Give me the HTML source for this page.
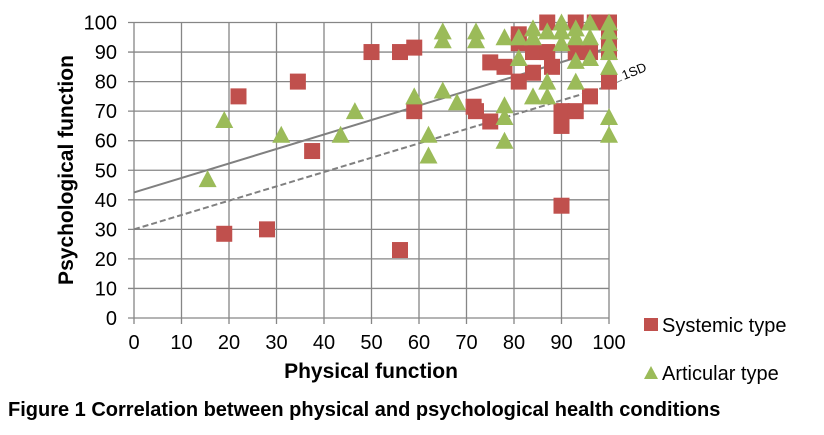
<!DOCTYPE html>
<html><head><meta charset="utf-8"><style>
body{margin:0;background:#fff;}
svg{display:block;font-family:"Liberation Sans",Arial,sans-serif;}
</style></head><body>
<svg id="chart" width="824" height="435" viewBox="0 0 824 435">
<g id="grid"></g>
<g id="lines"></g>
<g id="pts"></g>
<g id="labels"></g>
<text x="371" y="378" text-anchor="middle" font-size="21" font-weight="bold">Physical function</text>
<text transform="translate(73,170) rotate(-90)" text-anchor="middle" font-size="21" font-weight="bold">Psychological function</text>
<text transform="translate(624,80) rotate(-22)" font-size="13">1SD</text>
<g>
<rect x="644" y="318" width="14" height="13" fill="#C0504D"/>
<text x="662" y="332" font-size="20">Systemic type</text></g>
<g>
<polygon points="651,366 658,379 644,379" fill="#9BBB59"/>
<text x="662" y="380" font-size="20">Articular type</text></g>
<text x="8" y="416" font-size="20" font-weight="bold">Figure 1 Correlation between physical and psychological health conditions</text>
</svg>
<script>
const xTicks=[0,10,20,30,40,50,60,70,80,90,100];
const yTicks=[0,10,20,30,40,50,60,70,80,90,100];
const sysX=[19,22,28,34.5,37.5,50,56,56,59,59,71.5,72,75,75,78,81,81,81,84,84,87,87,88,90,90,90,93,93,93,96,96,97,100,100,100,100];
const sysY=[28.5,75,30,80,56.5,90,90,23,91.5,70,71.5,70,86.5,66.5,85,96,80,93,90,83,100,90,85,65,70,38,100,70,90,75,90,100,100,80,90,95];
const artX=[15.5,19,31,43.5,46.5,59,62,62,65,65,65,68,72,72,78,78,78,78,81,81,84,84,84,87,87,87,90,90,90,93,93,93,93,96,96,96,100,100,100,100,100,100,100];
const artY=[47,67,62,62,70,75,62,55,97,94,77,73,97,94,95,72,68,60,95,88,98,95,75,97,80,75,100,93,97,98,95,87,80,100,95,88,100,97,93,85,68,62,90];
const fitLine=[[0,42.5],[100,91.5]];
const sdLine=[[0,30],[100,78.5]];
const NS='http://www.w3.org/2000/svg';
const X=v=>134+v*4.75, Y=v=>318-v*2.955;
function mk(t,a,p){const e=document.createElementNS(NS,t);for(const k in a)e.setAttribute(k,a[k]);p.appendChild(e);return e;}
const g=document.getElementById('grid'),lb=document.getElementById('labels');
xTicks.forEach(t=>{const l=mk('line',{x1:X(t),x2:X(t),y1:Y(100),y2:Y(0)+6,stroke:'#868686','stroke-width':1.3},g);


const tx=mk('text',{x:X(t),y:349,'text-anchor':'middle','font-size':20},lb);tx.textContent=t;

});
yTicks.forEach(t=>{const l=mk('line',{x1:X(0)-6,x2:X(100),y1:Y(t),y2:Y(t),stroke:'#868686','stroke-width':1.3},g);


const tx=mk('text',{x:117,y:Y(t)+7,'text-anchor':'end','font-size':20},lb);tx.textContent=t;

});
const ln=document.getElementById('lines');
const f=mk('line',{x1:X(fitLine[0][0]),y1:Y(fitLine[0][1]),x2:X(fitLine[1][0]),y2:Y(fitLine[1][1]),stroke:'#808080','stroke-width':2},ln);


const s=mk('line',{x1:X(sdLine[0][0]),y1:Y(sdLine[0][1]),x2:X(sdLine[1][0]),y2:Y(sdLine[1][1]),stroke:'#808080','stroke-width':2,'stroke-dasharray':'6,3'},ln);


const sl=mk('line',{x1:X(100),y1:Y(sdLine[1][1]),x2:622,y2:Y(sdLine[1][1])-6,stroke:'#808080','stroke-width':1},ln);


const p=document.getElementById('pts');
sysX.forEach((v,i)=>{const r=mk('rect',{x:X(v)-8,y:Y(sysY[i])-8,width:16,height:16,fill:'#C0504D'},p);

});
artX.forEach((v,i)=>{const cx=X(v),cy=Y(artY[i]);const t=mk('polygon',{points:`${cx},${cy-9} ${cx+9},${cy+8} ${cx-9},${cy+8}`,fill:'#9BBB59'},p);

});
</script>
</body></html>
